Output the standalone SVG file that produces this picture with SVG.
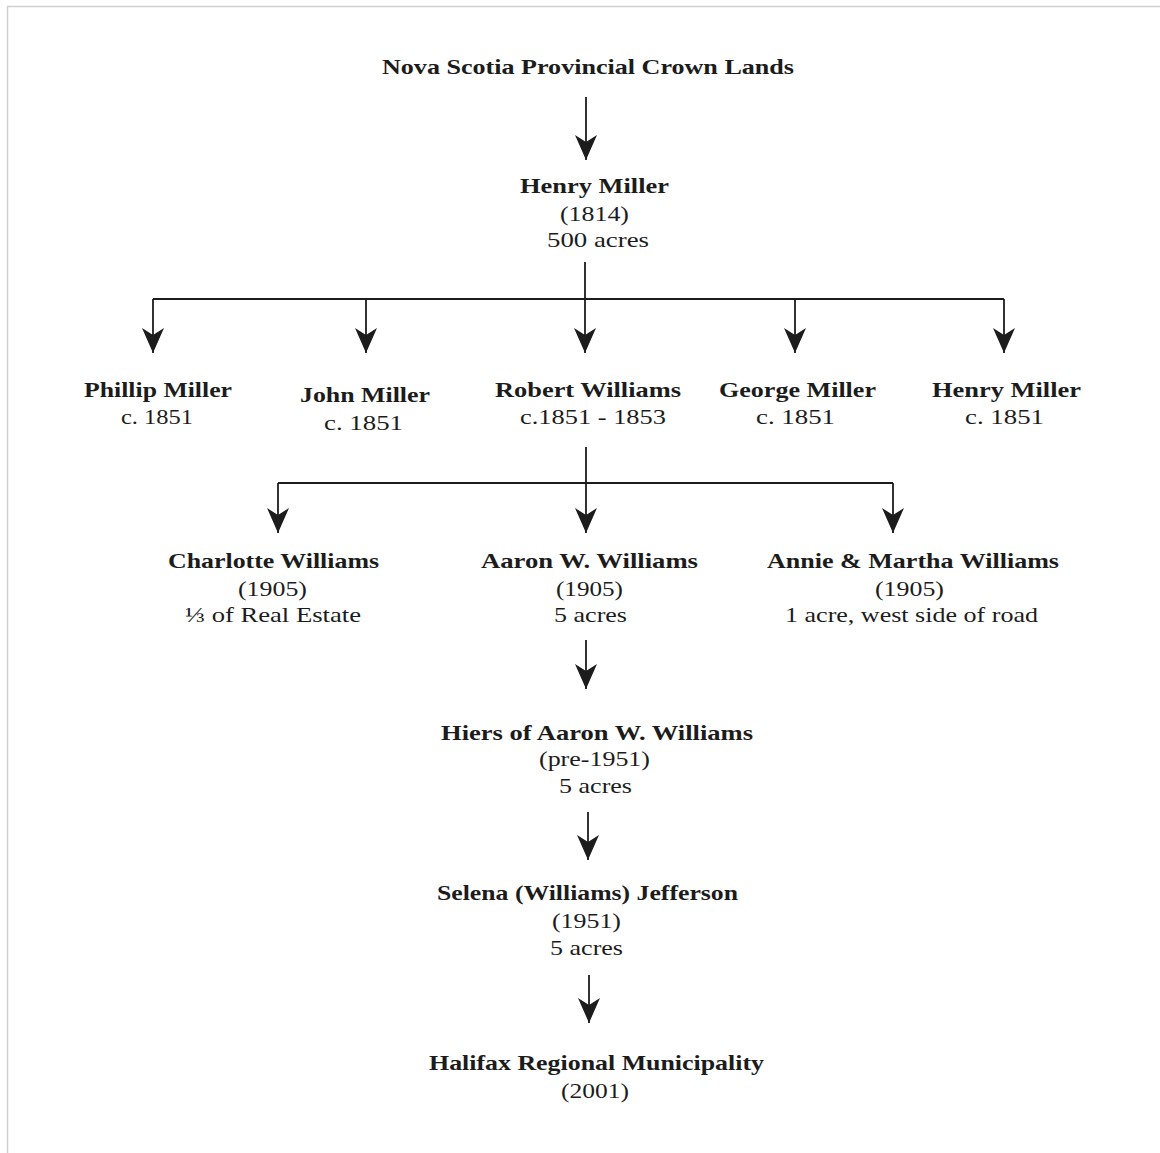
<svg xmlns="http://www.w3.org/2000/svg" width="1160" height="1153" viewBox="0 0 1160 1153">
<defs>
<style>
.t{font-family:"Liberation Serif","Times New Roman",serif;fill:#1c1c1c;text-anchor:middle}
.b{font-weight:bold;font-size:22px}
.r{font-size:21px}
.c{stroke:#1c1c1c;stroke-width:1.8;fill:none}
.a{marker-end:url(#head)}
.frame{stroke:#cfcfcf;stroke-width:1.5;fill:none}
</style>
<marker id="head" markerUnits="userSpaceOnUse" markerWidth="26" markerHeight="24" refX="25" refY="11" orient="auto" viewBox="0 0 26 24">
<path d="M0,0 L25,11 L0,22 L7,11 Z" fill="#1c1c1c"/>
</marker>
</defs>
<rect x="0" y="0" width="1160" height="1153" fill="#ffffff"/>
<path class="frame" d="M7.5,1153 L7.5,6.5 L1160,6.5"/>

<g id="connectors">
<path class="c a" d="M586,97 L586,160"/>
<path class="c" d="M585,262 L585,299 M153,299 L1004,299 M586,447 L586,483 M278,483 L893,483"/>
<path class="c a" d="M153,299 L153,353"/>
<path class="c a" d="M366,299 L366,353"/>
<path class="c a" d="M585,299 L585,353"/>
<path class="c a" d="M795,299 L795,353"/>
<path class="c a" d="M1004,299 L1004,353"/>
<path class="c a" d="M278,483 L278,533"/>
<path class="c a" d="M586,483 L586,533"/>
<path class="c a" d="M893,483 L893,533"/>
<path class="c a" d="M586,640 L586,689"/>
<path class="c a" d="M588,812 L588,860"/>
<path class="c a" d="M589,975 L589,1023"/>
</g>

<g id="n-crown">
<text class="t b" x="588" y="74" textLength="412" lengthAdjust="spacingAndGlyphs">Nova Scotia Provincial Crown Lands</text>
</g>
<g id="n-henry-1814">
<text class="t b" x="594.5" y="193" textLength="149" lengthAdjust="spacingAndGlyphs">Henry Miller</text>
<text class="t r" x="594.5" y="221" textLength="69" lengthAdjust="spacingAndGlyphs">(1814)</text>
<text class="t r" x="598" y="247" textLength="102" lengthAdjust="spacingAndGlyphs">500 acres</text>
</g>
<g id="n-phillip">
<text class="t b" x="158" y="397" textLength="148" lengthAdjust="spacingAndGlyphs">Phillip Miller</text>
<text class="t r" x="157" y="424" textLength="72" lengthAdjust="spacingAndGlyphs">c. 1851</text>
</g>
<g id="n-john">
<text class="t b" x="365" y="402" textLength="130" lengthAdjust="spacingAndGlyphs">John Miller</text>
<text class="t r" x="363.5" y="430" textLength="79" lengthAdjust="spacingAndGlyphs">c. 1851</text>
</g>
<g id="n-robert">
<text class="t b" x="588" y="397" textLength="186" lengthAdjust="spacingAndGlyphs">Robert Williams</text>
<text class="t r" x="593" y="424" textLength="146" lengthAdjust="spacingAndGlyphs">c.1851 - 1853</text>
</g>
<g id="n-george">
<text class="t b" x="797.5" y="397" textLength="157" lengthAdjust="spacingAndGlyphs">George Miller</text>
<text class="t r" x="795.5" y="424" textLength="79" lengthAdjust="spacingAndGlyphs">c. 1851</text>
</g>
<g id="n-henry-1851">
<text class="t b" x="1006.5" y="397" textLength="149" lengthAdjust="spacingAndGlyphs">Henry Miller</text>
<text class="t r" x="1004.5" y="424" textLength="79" lengthAdjust="spacingAndGlyphs">c. 1851</text>
</g>
<g id="n-charlotte">
<text class="t b" x="273.5" y="568" textLength="211" lengthAdjust="spacingAndGlyphs">Charlotte Williams</text>
<text class="t r" x="272.5" y="596" textLength="69" lengthAdjust="spacingAndGlyphs">(1905)</text>
<text class="t r" x="273" y="622" textLength="176" lengthAdjust="spacingAndGlyphs">⅓ of Real Estate</text>
</g>
<g id="n-aaron">
<text class="t b" x="589.5" y="568" textLength="217" lengthAdjust="spacingAndGlyphs">Aaron W. Williams</text>
<text class="t r" x="589.5" y="596" textLength="67" lengthAdjust="spacingAndGlyphs">(1905)</text>
<text class="t r" x="590.5" y="622" textLength="73" lengthAdjust="spacingAndGlyphs">5 acres</text>
</g>
<g id="n-annie">
<text class="t b" x="913" y="568" textLength="292" lengthAdjust="spacingAndGlyphs">Annie &amp; Martha Williams</text>
<text class="t r" x="909.5" y="596" textLength="69" lengthAdjust="spacingAndGlyphs">(1905)</text>
<text class="t r" x="911.5" y="622" textLength="253" lengthAdjust="spacingAndGlyphs">1 acre, west side of road</text>
</g>
<g id="n-hiers">
<text class="t b" x="597" y="740" textLength="312" lengthAdjust="spacingAndGlyphs">Hiers of Aaron W. Williams</text>
<text class="t r" x="594.5" y="766" textLength="111" lengthAdjust="spacingAndGlyphs">(pre-1951)</text>
<text class="t r" x="595.5" y="793" textLength="73" lengthAdjust="spacingAndGlyphs">5 acres</text>
</g>
<g id="n-selena">
<text class="t b" x="587.5" y="900" textLength="301" lengthAdjust="spacingAndGlyphs">Selena (Williams) Jefferson</text>
<text class="t r" x="586.5" y="928" textLength="69" lengthAdjust="spacingAndGlyphs">(1951)</text>
<text class="t r" x="586.5" y="955" textLength="73" lengthAdjust="spacingAndGlyphs">5 acres</text>
</g>
<g id="n-halifax">
<text class="t b" x="596.5" y="1070" textLength="335" lengthAdjust="spacingAndGlyphs">Halifax Regional Municipality</text>
<text class="t r" x="595" y="1098" textLength="68" lengthAdjust="spacingAndGlyphs">(2001)</text>
</g>
</svg>
